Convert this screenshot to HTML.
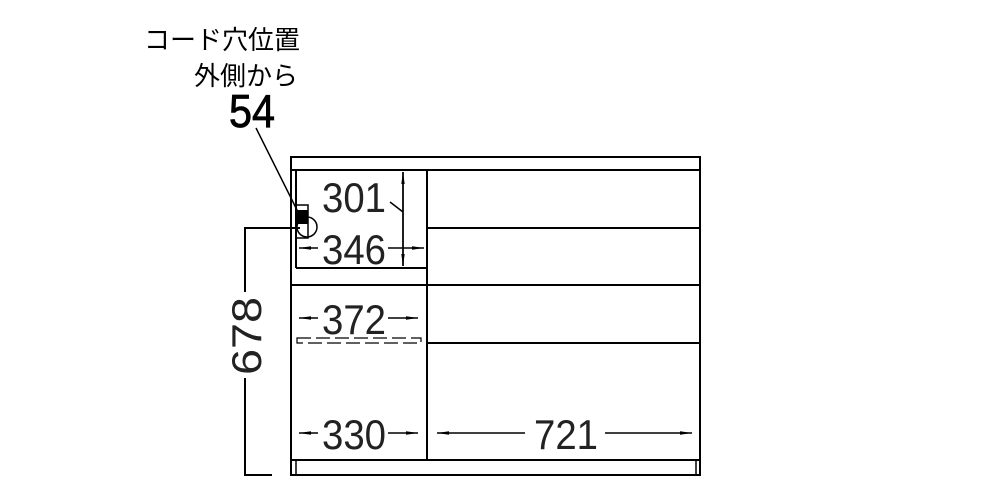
<!DOCTYPE html>
<html><head><meta charset="utf-8"><style>
html,body{margin:0;padding:0;background:#fff;width:1000px;height:500px;overflow:hidden}
</style></head><body>
<svg width="1000" height="500" viewBox="0 0 1000 500" xmlns="http://www.w3.org/2000/svg" font-family="Liberation Sans, sans-serif">
<defs><marker id="a" markerWidth="12" markerHeight="6" refX="12" refY="3" orient="auto" markerUnits="userSpaceOnUse"><path d="M0,1.3 L12,3 L0,4.7 Z" fill="#000"/></marker></defs>
<g fill="none" stroke="#000" stroke-width="2">
<rect x="291" y="157" width="409" height="318"/>
<line x1="291" y1="170" x2="700" y2="170"/>
<line x1="296" y1="170" x2="296" y2="268"/>
<line x1="427" y1="170" x2="427" y2="460"/>
<line x1="296" y1="268" x2="427" y2="268"/>
<line x1="291" y1="285" x2="700" y2="285"/>
<line x1="427" y1="228" x2="700" y2="228"/>
<line x1="427" y1="343" x2="700" y2="343"/>
<line x1="291" y1="460" x2="700" y2="460"/>
<line x1="296" y1="460" x2="296" y2="475" stroke-width="1.5"/>
<line x1="696" y1="460" x2="696" y2="475" stroke-width="1.5"/>
<polyline points="300,228 245,228 245,292"/>
<polyline points="245,378 245,475 272,475"/>
<line x1="256" y1="128" x2="303" y2="222" stroke-width="1.5"/>
<rect x="296" y="205" width="12" height="33" stroke-width="1.5"/>
<circle cx="307" cy="227" r="10" stroke-width="1.5"/>
<line x1="403" y1="172" x2="403" y2="266" stroke-width="1.5" marker-end="url(#a)" />
<line x1="403" y1="266" x2="403" y2="172" stroke-width="1.5" marker-end="url(#a)" />
<line x1="390" y1="202" x2="403" y2="212" stroke-width="1.5"/>
<g stroke-width="1.5">
<line x1="318" y1="248" x2="299" y2="248" marker-end="url(#a)"/>
<line x1="388" y1="248" x2="424" y2="248" marker-end="url(#a)"/>
<line x1="318" y1="318" x2="299" y2="318" marker-end="url(#a)"/>
<line x1="388" y1="318" x2="418" y2="318" marker-end="url(#a)"/>
<line x1="318" y1="433" x2="299" y2="433" marker-end="url(#a)"/>
<line x1="388" y1="433" x2="418" y2="433" marker-end="url(#a)"/>
<line x1="525" y1="433" x2="437" y2="433" marker-end="url(#a)"/>
<line x1="605" y1="433" x2="692" y2="433" marker-end="url(#a)"/>
</g>
<rect x="297" y="338" width="124" height="5" stroke-width="1.2" stroke-dasharray="14,5"/>
</g>
<rect x="297" y="210" width="11" height="14" fill="#000"/>
<g font-size="42" fill="#222">
<text x="322" y="212" textLength="64" lengthAdjust="spacingAndGlyphs">301</text>
<text x="322" y="264" textLength="64" lengthAdjust="spacingAndGlyphs">346</text>
<text x="322" y="334" textLength="64" lengthAdjust="spacingAndGlyphs">372</text>
<text x="322" y="449" textLength="64" lengthAdjust="spacingAndGlyphs">330</text>
<text x="534" y="449" textLength="64" lengthAdjust="spacingAndGlyphs">721</text>
<text transform="translate(261,375) rotate(-90)" textLength="78" lengthAdjust="spacingAndGlyphs">678</text>
</g>
<g font-family="Liberation Sans, Noto Sans CJK JP, sans-serif" font-size="26" fill="#000">
<text x="144" y="49">コード穴位置</text>
<text x="194" y="85">外側から</text>
</g>
<text x="229" y="127" font-size="46" fill="#000" textLength="46" lengthAdjust="spacingAndGlyphs" stroke="#000" stroke-width="0.8">54</text>
</svg>
</body></html>
